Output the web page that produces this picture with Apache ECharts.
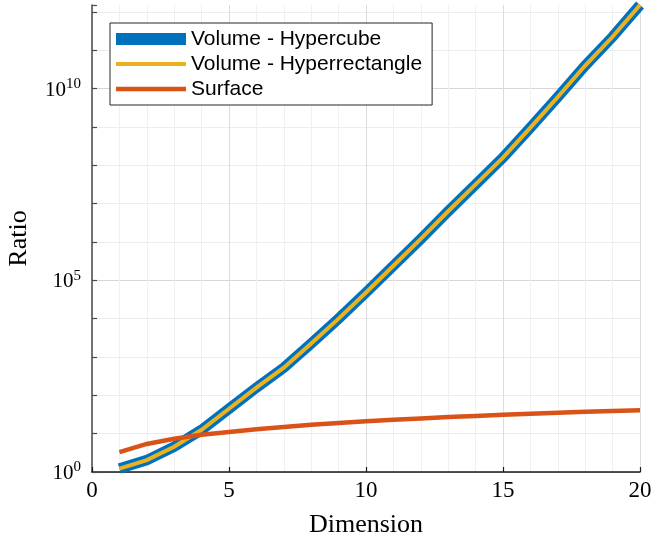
<!DOCTYPE html>
<html><head><meta charset="utf-8">
<script src="https://cdn.jsdelivr.net/npm/echarts@6/dist/echarts.min.js"></script>
<style>html,body{margin:0;padding:0;background:#fff}#c{width:655px;height:542px}</style>
</head><body><div id="c"></div>
<script>
const dimensions = [1,2,3,4,5,6,7,8,9,10,11,12,13,14,15,16,17,18,19,20];
const volumeHypercube = [1.23, 2.04, 4.57, 12.6, 44.7, 158, 525, 2240, 10000, 47900, 240000, 1.2e6, 6.31e6, 3.16e7, 1.58e8, 9.55e8, 6.03e9, 3.98e10, 2.24e11, 1.51e12];
const volumeHyperrectangle = [1.23, 2.04, 4.57, 12.6, 44.7, 158, 525, 2240, 10000, 47900, 240000, 1.2e6, 6.31e6, 3.16e7, 1.58e8, 9.55e8, 6.03e9, 3.98e10, 2.24e11, 1.51e12];
const surfaceRatio = [3.3, 5.4, 7.4, 9.4, 11, 13, 15, 17, 19, 21, 23, 25, 27, 29, 31, 33, 35, 37, 39, 41];
const seriesNames = ['Volume - Hypercube', 'Volume - Hyperrectangle', 'Surface'];
const xTickLabels = [0, 5, 10, 15, 20];
const yLabelExponents = [0, 5, 10];
const yMin = 1, yMax = 1.51e12;

const pairs = arr => dimensions.map((d, i) => [d, arr[i]]);
const chart = echarts.init(document.getElementById('c'), null, {renderer: 'canvas'});
const serif = 'Liberation Serif';
chart.setOption({
  animation: false,
  backgroundColor: '#fff',
  grid: {left: 92, top: 5, width: 548, height: 467, containLabel: false, outerBoundsMode: 'none'},
  legend: {
    left: 110, top: 23, orient: 'vertical',
    backgroundColor: '#fff', borderColor: '#262626', borderWidth: 1, borderRadius: 0,
    padding: [5, 10, 5, 6], itemWidth: 70, itemHeight: 14, itemGap: 3,
    itemStyle: {borderWidth: 0},
    textStyle: {fontFamily: 'Liberation Sans', fontSize: 21, color: '#000', lineHeight: 22},
    data: [
      {name: seriesNames[0], icon: 'path://M0,0H70V12H0Z'},
      {name: seriesNames[1], icon: 'path://M0,0H70V4H0Z'},
      {name: seriesNames[2], icon: 'path://M0,0H70V4.5H0Z'}
    ]
  },
  xAxis: {
    type: 'value', min: 0, max: 20, interval: 5,
    name: 'Dimension', nameLocation: 'middle', nameGap: 40,
    nameTextStyle: {fontFamily: serif, fontSize: 26, color: '#000'},
    axisLine: {show: true, lineStyle: {color: '#1a1a1a', width: 1.5}},
    axisTick: {show: true, inside: true, length: 5, lineStyle: {color: '#1a1a1a', width: 1.2}},
    axisLabel: {margin: 7, fontFamily: serif, fontSize: 23, color: '#000',
      formatter: v => xTickLabels.indexOf(v) >= 0 ? String(v) : ''},
    splitLine: {show: true, lineStyle: {color: '#dcdcdc', width: 1}},
    minorTick: {show: false, splitNumber: 5},
    minorSplitLine: {show: true, lineStyle: {color: '#f0f0f0', width: 1}}
  },
  yAxis: {
    type: 'log', logBase: 10, min: yMin, max: yMax, interval: 1,
    name: 'Ratio', nameLocation: 'middle', nameGap: 60, nameRotate: 90,
    nameTextStyle: {fontFamily: serif, fontSize: 26, color: '#000'},
    axisLine: {show: true, lineStyle: {color: '#4a4a4a', width: 1.5}},
    axisTick: {show: true, inside: true, length: 5, lineStyle: {color: '#4a4a4a', width: 1.2}},
    axisLabel: {
      margin: 11, color: '#000',
      formatter: v => {
        const e = Math.round(Math.log10(v));
        if (Math.abs(Math.log10(v) - e) > 1e-6 || yLabelExponents.indexOf(e) < 0) return '';
        return '{b|10}{s|' + e + '}';
      },
      rich: {
        b: {fontFamily: serif, fontSize: 21, color: '#000', verticalAlign: 'bottom'},
        s: {fontFamily: serif, fontSize: 15, color: '#000', padding: [0, 0, 9, 0]}
      }
    },
    splitLine: {show: true, showMaxLine: false,
      lineStyle: {color: ['#d6d6d6', '#ececec', '#ececec', '#ececec', '#ececec'], width: 1}}
  },
  series: [
    {name: seriesNames[0], type: 'line', data: pairs(volumeHypercube), showSymbol: false, symbol: 'none',
      color: '#0072BD', lineStyle: {color: '#0072BD', width: 10.5, cap: 'butt', join: 'miter'}, clip: false, z: 2},
    {name: seriesNames[1], type: 'line', data: pairs(volumeHyperrectangle), showSymbol: false, symbol: 'none',
      color: '#EDB120', lineStyle: {color: '#EDB120', width: 4, cap: 'butt', join: 'miter'}, clip: false, z: 3},
    {name: seriesNames[2], type: 'line', data: pairs(surfaceRatio), showSymbol: false, symbol: 'none',
      color: '#D95319', lineStyle: {color: '#D95319', width: 4.5, cap: 'butt', join: 'miter'}, clip: false, z: 4}
  ]
});
</script></body></html>
